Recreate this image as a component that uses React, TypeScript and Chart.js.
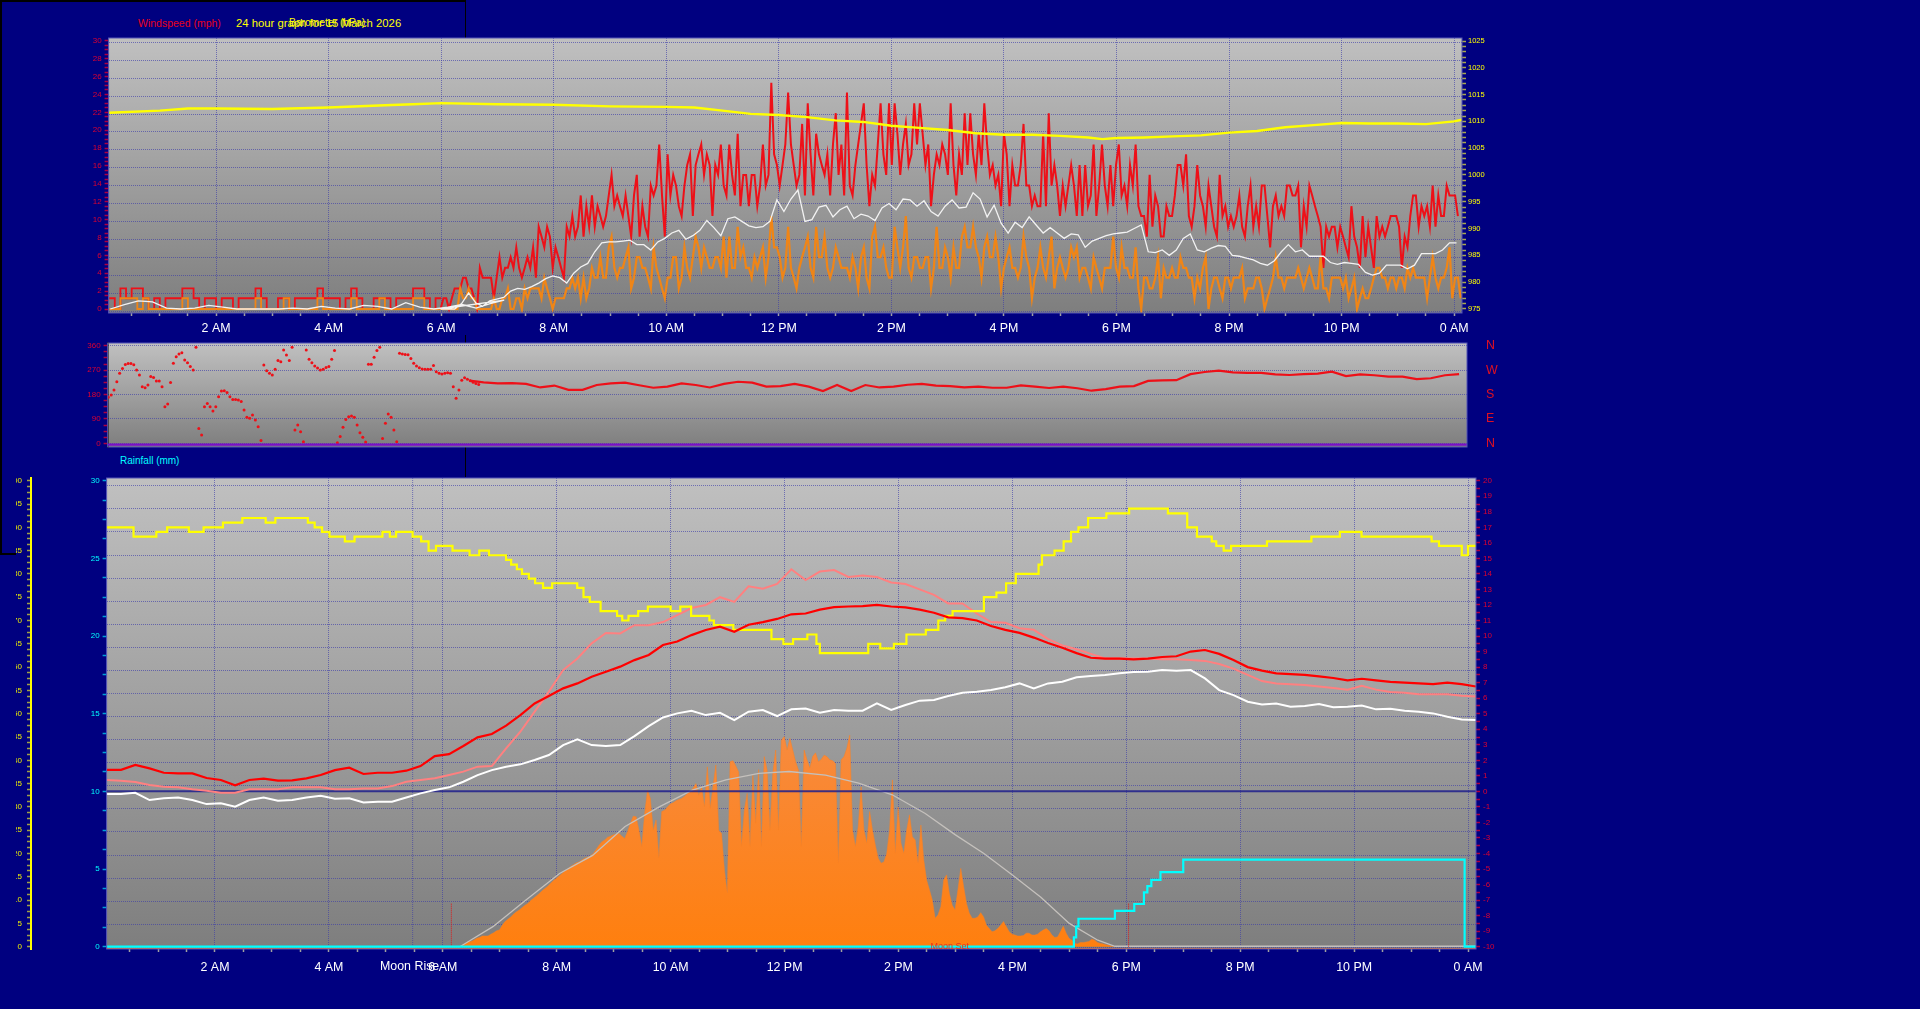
import { useEffect, useRef } from "react"
import Chart from "chart.js/auto"

const FONT = "'Liberation Sans', Arial, sans-serif"
const NAVY = "#000080"
const GRID = "rgba(58,58,170,0.62)"
const RED_TEXT = "#dc0030"

// ---- top panel: wind and pressure ----
const gustEarly = [
  1.2, 0, 2.3, 1.2, 2.3, 2.3, 1.2, 0, 1.2, 0, 1.2, 1.2, 1.2, 2.3, 2.3, 1.2, 0, 1.2, 1.2, 0, 1.2, 1.2, 0, 1.2, 1.2, 1.2,
  2.3, 1.2, 0, 0, 1.2, 1.2, 0, 1.2, 1.2, 1.2, 1.2, 2.3, 1.2, 1.2, 1.2, 0, 1.2, 2.3, 1.2, 0, 0, 1.2, 1.2, 1.2, 0, 1.2,
  1.2, 1.2, 2.3, 2.3, 1.2, 0, 1.2, 1.2,
]
const gustDay = [
  0, 1.2, 1.2, 0, 1.2, 2.3, 2.3, 2.3, 3.5, 3.5, 2.3, 2.3, 1.2, 0, 4.6, 3.5, 3.5, 3.5, 3.5, 1.2, 3.5, 5.8, 3.5, 4.6, 4.6,
  5.8, 4.6, 6.9, 4.6, 3.5, 4.6, 5.8, 4.6, 6.9, 3.5, 9.2, 8.1, 6.9, 9.2, 8.1, 4.6, 6.9, 5.8, 4.6, 3.5, 9.2, 8.1, 10.4,
  8.1, 9.2, 12.7, 8.1, 11.5, 9.2, 12.7, 9.2, 11.5, 10.4, 9.2, 10.4, 12.7, 15, 11.5, 12.7, 11.5, 10.4, 12.7, 10.4, 8.1,
  12.7, 15, 8.1, 11.5, 9.2, 8.1, 13.8, 12.7, 13.8, 18.4, 12.7, 8.1, 17.3, 12.7, 15, 13.8, 11.5, 10.4, 13.8, 16.1, 17.3,
  10.4, 16.1, 17.3, 18.4, 15, 17.3, 16.1, 10.4, 16.1, 15, 18.4, 13.8, 12.7, 18.4, 15, 12.7, 19.6, 11.5, 15, 15, 11.5,
  15, 15, 11.5, 13.8, 18.4, 13.8, 15, 25.3, 17.3, 16.1, 13.8, 16.1, 18.4, 24.2, 18.4, 16.1, 13.8, 15, 20.7, 12.7, 23,
  17.3, 12.7, 19.6, 17.3, 16.1, 15, 17.3, 12.7, 18.4, 21.9, 15, 18.4, 12.7, 24.2, 13.8, 12.7, 16.1, 18.4, 20.7, 23,
  16.1, 11.5, 15, 13.8, 18.4, 23, 17.3, 15, 23, 16.1, 23, 19.6, 15, 18.4, 20.7, 16.1, 17.3, 23, 18.4, 23, 19.6, 16.1,
  18.4, 11.5, 15, 17.3, 16.1, 18.4, 17.3, 15, 23, 16.1, 12.7, 17.3, 15, 21.9, 16.1, 21.9, 17.3, 15, 19.6, 16.1, 23,
  18.4, 15, 16.1, 13.8, 15, 11.5, 19.6, 17.3, 11.5, 16.1, 13.8, 13.8, 16.1, 20.7, 13.8, 13.8, 11.5, 12.7, 11.5, 11.5,
  19.6, 11.5, 21.9, 13.8, 16.1, 13.8, 10.4, 13.8, 11.5, 13.8, 16.1, 13.8, 10.4, 16.1, 10.4, 16.1, 11.5, 12.7, 18.4,
  10.4, 13.8, 18.4, 13.8, 11.5, 16.1, 11.5, 16.1, 18.4, 12.7, 13.8, 11.5, 16.1, 13.8, 18.4, 11.5, 10.4, 10.4, 8.1, 15,
  9.2, 12.7, 11.5, 8.1, 8.1, 11.5, 10.4, 10.4, 12.7, 16.1, 16.1, 13.8, 17.3, 10.4, 9.2, 11.5, 16.1, 12.7, 11.5, 9.2,
  13.8, 11.5, 9.2, 8.1, 15, 10.4, 11.5, 9.2, 10.4, 9.2, 10.4, 12.7, 9.2, 8.1, 11.5, 13.8, 9.2, 11.5, 9.2, 13.8, 13.8,
  10.4, 6.9, 11.5, 12.7, 10.4, 11.5, 10.4, 13.8, 13.8, 12.7, 12.7, 13.8, 6.9, 11.5, 9.2, 13.8, 12.7, 11.5, 10.4, 9.2,
  4.6, 9.2, 8.1, 9.2, 9.2, 6.9, 9.2, 8.1, 6.9, 5.8, 11.5, 8.1, 6.9, 4.6, 10.4, 5.8, 9.2, 6.9, 4.6, 10.4, 8.1, 9.2, 8.1,
  9.2, 10.4, 10.4, 10.4, 9.2, 4.6, 8.1, 6.9, 10.4, 12.7, 12.7, 9.2, 11.5, 10.4, 11.5, 9.2, 13.8, 9.2, 12.7, 10.4, 10.4,
  13.8, 12.7, 12.7, 12.7, 10.4,
]
const avgEarly = [
  0, 0, 1.2, 1.2, 1.2, 0, 1.2, 0, 0, 0, 0, 0, 0, 1.2, 0, 0, 0, 0, 0, 0, 0, 0, 0, 0, 0, 0, 1.2, 0, 0, 0, 0, 1.2, 0, 0, 0,
  0, 0, 1.2, 0, 0, 0, 0, 0, 1.2, 0, 0, 0, 0, 1.2, 0, 0, 0, 0, 0, 1.2, 1.2, 0, 0, 0, 0,
]
const avgDay = [
  0, 0, 0, 0, 0, 0, 0, 2.3, 1.2, 1.2, 2.3, 1.2, 1.2, 0, 0, 0, 0, 0, 0, 1.2, 0, 0, 1.2, 1.2, 2.3, 0, 0, 1.2, 1.2, 0, 2.3,
  1.2, 2.3, 2.3, 2.3, 2.3, 1.2, 3.5, 2.3, 1.2, 0, 1.2, 1.2, 1.2, 1.2, 2.3, 2.3, 3.5, 2.3, 3.5, 1.2, 3.5, 1.2, 2.3, 4.6,
  3.5, 3.5, 5.8, 3.5, 3.5, 6.9, 8.1, 4.6, 3.5, 4.6, 4.6, 5.8, 6.9, 2.3, 3.5, 5.8, 5.8, 4.6, 4.6, 3.5, 2.3, 6.9, 4.6,
  3.5, 2.3, 1.2, 3.5, 3.5, 5.8, 5.8, 2.3, 3.5, 6.9, 4.6, 3.5, 5.8, 8.1, 6.9, 4.6, 6.9, 5.8, 4.6, 4.6, 5.8, 5.8, 4.6,
  8.1, 3.5, 8.1, 4.6, 4.6, 9.2, 5.8, 6.9, 4.6, 4.6, 3.5, 5.8, 4.6, 5.8, 6.9, 3.5, 5.8, 10.4, 6.9, 6.9, 5.8, 3.5, 4.6,
  9.2, 4.6, 3.5, 2.3, 4.6, 5.8, 6.9, 8.1, 4.6, 3.5, 9.2, 5.8, 5.8, 8.1, 4.6, 3.5, 4.6, 6.9, 5.8, 4.6, 4.6, 4.6, 3.5,
  5.8, 4.6, 2.3, 5.8, 6.9, 3.5, 2.3, 8.1, 9.2, 5.8, 5.8, 6.9, 4.6, 3.5, 3.5, 9.2, 6.9, 4.6, 6.9, 10.4, 4.6, 3.5, 5.8,
  5.8, 4.6, 4.6, 5.8, 5.8, 2.3, 4.6, 9.2, 4.6, 4.6, 6.9, 5.8, 3.5, 6.9, 4.6, 4.6, 8.1, 9.2, 6.9, 6.9, 9.2, 6.9, 5.8,
  3.5, 6.9, 8.1, 5.8, 5.8, 8.1, 5.8, 2.3, 4.6, 5.8, 6.9, 4.6, 4.6, 3.5, 4.6, 8.1, 5.8, 4.6, 1.2, 3.5, 4.6, 6.9, 4.6,
  3.5, 5.8, 8.1, 2.3, 4.6, 5.8, 4.6, 3.5, 4.6, 6.9, 5.8, 6.9, 3.5, 4.6, 4.6, 3.5, 2.3, 5.8, 4.6, 3.5, 2.3, 4.6, 4.6,
  4.6, 8.1, 4.6, 3.5, 6.9, 4.6, 4.6, 3.5, 3.5, 6.9, 2.3, 0, 3.5, 3.5, 2.3, 2.3, 3.5, 5.8, 1.2, 4.6, 3.5, 3.5, 4.6, 3.5,
  3.5, 5.8, 4.6, 4.6, 3.5, 3.5, 1.2, 3.5, 2.3, 4.6, 5.8, 0, 2.3, 3.5, 3.5, 2.3, 1.2, 3.5, 3.5, 2.3, 3.5, 3.5, 3.5, 4.6,
  1.2, 2.3, 2.3, 2.3, 3.5, 3.5, 2.3, 0, 1.2, 2.3, 3.5, 5.8, 3.5, 3.5, 2.3, 3.5, 3.5, 3.5, 3.5, 4.6, 3.5, 2.3, 3.5, 4.6,
  3.5, 2.3, 2.3, 5.8, 2.3, 2.3, 1.2, 3.5, 3.5, 3.5, 3.5, 2.3, 3.5, 1.2, 2.3, 3.5, 0, 1.2, 2.3, 1.2, 1.2, 2.3, 3.5, 4.6,
  4.6, 3.5, 3.5, 2.3, 3.5, 3.5, 2.3, 3.5, 3.5, 2.3, 4.6, 3.5, 4.6, 3.5, 3.5, 3.5, 3.5, 1.2, 3.5, 5.8, 3.5, 2.3, 3.5,
  3.5, 4.6, 6.9, 1.2, 3.5, 3.5, 1.2,
]
const avg10Early = [0, 0.5, 0.9, 0.8, 0.1, 0, 0.1, 0.4, 0.2, 0, 0, 0, 0, 0.1, 0, 0.3, 0.1, 0, 0.4, 0.3, 0, 0.7, 0.2, 0, 0.2, 0.5, 0.1, 0.6, 1]
const avg10Day = [
  0, 0, 0, 0.6, 1.8, 0.7, 0.3, 0.9, 1.1, 1.3, 2, 2.3, 2.2, 2.5, 2.9, 3.4, 3.7, 3.5, 2.9, 4, 4.7, 5.1, 6.4, 7.4, 7.5, 7.5,
  7.6, 7.7, 7.2, 7.2, 6.6, 7.5, 7.9, 8.5, 8.8, 7.8, 8.2, 8.8, 9.9, 9.1, 8.2, 10.1, 10.3, 9.8, 9.3, 9.1, 9.2, 9.8, 12.2,
  10.9, 12.3, 13.3, 9.8, 10, 11.4, 11.6, 10.3, 11.1, 11.5, 10.1, 10.6, 10.4, 9.9, 11.3, 11.8, 11.1, 12.3, 12.2, 11.5,
  12.1, 10.9, 10.4, 11.5, 12.2, 11.3, 11.4, 13, 12.3, 10.3, 11.6, 9.6, 8.5, 9.7, 9.1, 10.3, 9.4, 8.5, 9.1, 8.5, 7.9, 8.4,
  8.3, 6.9, 7.6, 7.9, 8.2, 8.4, 8.5, 8.6, 9, 9.4, 6.4, 6.3, 6.6, 6, 6.6, 7.9, 8.4, 6.6, 6.4, 6.8, 7.1, 7, 6, 5.9, 5.7,
  5.5, 5.1, 4.9, 5.4, 6.4, 7.2, 6.4, 6.6, 5.9, 5.9, 5.9, 5.2, 5, 5.2, 5.1, 5, 4.1, 3.8, 4, 4.9, 4.9, 4.9, 4.5, 4.9, 6.2,
  6.2, 6.2, 6.6, 7.4, 7.4,
]
const pressureHours = [
  0.1, 1, 1.5, 2, 3, 4, 5, 5.5, 6, 7, 8, 9, 10, 10.5, 11, 11.5, 12, 12.5, 13, 13.5, 14, 14.5, 15, 15.5, 16, 16.5, 17, 17.5,
  17.75, 18, 18.5, 19, 19.5, 20, 20.5, 21, 21.5, 22, 22.5, 23, 23.5, 24, 24.14,
]
const pressure = [
  1011.6, 1012, 1012.4, 1012.4, 1012.3, 1012.6, 1013, 1013.2, 1013.4, 1013.2, 1013.1, 1012.8, 1012.7, 1012.6, 1012, 1011.4,
  1011.2, 1010.8, 1010.2, 1009.9, 1009.2, 1008.8, 1008.4, 1007.8, 1007.5, 1007.5, 1007.3, 1007, 1006.7, 1006.9, 1007, 1007.2,
  1007.4, 1007.9, 1008.2, 1008.9, 1009.3, 1009.7, 1009.6, 1009.6, 1009.5, 1010, 1010.3,
]

// ---- middle panel: wind direction ----
const directionNight = [
  170, 178, 197, 227, 258, 276, 291, 294, 294, 290, 270, 252, 209, 205, 215, 246, 243, 230, 230, 209, 135, 145, 224, 295,
  319, 329, 334, 307, 297, 283, 270, 354, 55, 31, 135, 147, 135, 119, 135, 172, 193, 194, 187, 172, 162, 162, 160, 154, 123,
  96, 92, 104, 86, 61, 10, 289, 268, 258, 252, 273, 305, 301, 344, 326, 305, 354, 49, 68, 43, 6, 344, 310, 297, 285, 278,
  270, 273, 280, 283, 310, 342, 2, 25, 59, 88, 98, 101, 96, 68, 39, 22, 5, 292, 292, 317, 342, 354, 18, 74, 108, 96, 49, 6,
  332, 329, 328, 327, 313, 295, 285, 279, 274, 273, 273, 273, 287, 264, 258, 256, 258, 260, 258, 209, 166, 197, 233, 242,
  236, 231, 225, 221, 217,
]
const directionDay = [
  231, 225, 221, 222, 219, 206, 213, 197, 197, 215, 221, 224, 214, 205, 209, 221, 215, 206, 219, 227, 224, 209, 211, 219,
  209, 193, 215, 193, 215, 206, 209, 216, 219, 213, 211, 206, 209, 205, 205, 214, 209, 204, 209, 203, 194, 200, 209, 211,
  230, 232, 233, 255, 263, 268, 262, 260, 260, 254, 252, 255, 257, 264, 248, 254, 251, 246, 246, 237, 240, 251, 255,
]
const calmLine = [-5, -5]

// ---- bottom panel: temperature, humidity, solar, rain ----
const temperature = [
  1.39, 1.39, 1.7, 1.48, 1.2, 1.16, 1.16, 0.86, 0.73, 0.39, 0.73, 0.82, 0.69, 0.71, 0.84, 1.05, 1.37, 1.52, 1.12, 1.2, 1.2,
  1.33, 1.63, 2.27, 2.4, 2.92, 3.48, 3.69, 4.23, 4.91, 5.66, 6.14, 6.63, 6.95, 7.38, 7.7, 8.03, 8.45, 8.78, 9.42, 9.65,
  10.06, 10.39, 10.6, 10.28, 10.73, 10.9, 11.1, 11.4, 11.45, 11.7, 11.86, 11.9, 11.93, 12, 11.9, 11.85, 11.7, 11.5, 11.2,
  11.15, 11, 10.65, 10.4, 10.2, 9.9, 9.55, 9.25, 8.9, 8.6, 8.55, 8.55, 8.5, 8.55, 8.65, 8.7, 9, 9.1, 8.85, 8.45, 8, 7.77,
  7.6, 7.55, 7.5, 7.4, 7.3, 7.15, 7.25, 7.15, 7.05, 7, 6.95, 6.9, 7, 6.9, 6.75,
]
const apparent = [
  0.73, 0.69, 0.6, 0.41, 0.3, 0.26, 0.13, 0.04, -0.09, -0.09, 0.13, 0.13, 0.13, 0.26, 0.26, 0.26, 0.13, 0.13, 0.19, 0.19,
  0.34, 0.62, 0.73, 0.84, 1.05, 1.27, 1.59, 1.63, 2.77, 3.84, 5.13, 6.42, 7.81, 8.56, 9.53, 10.2, 10.17, 10.7, 10.7, 10.9,
  11.35, 11.8, 12, 12.5, 12.2, 13.2, 13.05, 13.35, 14.3, 13.6, 14.15, 14.25, 13.8, 13.9, 13.8, 13.45, 13.35, 13, 12.65, 12.1,
  12.1, 11.45, 10.9, 10.85, 10.5, 10.4, 9.8, 9.4, 9.15, 8.85, 8.55, 8.55, 8.55, 8.55, 8.5, 8.5, 8.45, 8.4, 8.2, 7.9, 7.5, 7.1,
  6.95, 6.9, 6.85, 6.75, 6.65, 6.55, 6.8, 6.55, 6.4, 6.35, 6.25, 6.25, 6.25, 6.15, 6.1,
]
const dewPoint = [
  -0.17, -0.17, -0.09, -0.56, -0.45, -0.39, -0.56, -0.82, -0.77, -0.99, -0.56, -0.39, -0.6, -0.56, -0.39, -0.28, -0.47, -0.45,
  -0.71, -0.67, -0.67, -0.39, -0.13, 0.09, 0.26, 0.62, 1.05, 1.37, 1.59, 1.74, 2.02, 2.34, 2.98, 3.35, 2.98, 2.92, 2.98, 3.56,
  4.2, 4.76, 5.02, 5.19, 4.91, 5.06, 4.59, 5.13, 5.24, 4.85, 5.28, 5.34, 5.06, 5.24, 5.19, 5.19, 5.66, 5.24, 5.56, 5.84, 5.88,
  6.14, 6.35, 6.42, 6.52, 6.7, 6.95, 6.63, 6.95, 7.06, 7.34, 7.43, 7.49, 7.6, 7.68, 7.7, 7.81, 7.77, 7.81, 7.27, 6.52, 6.2,
  5.77, 5.6, 5.66, 5.45, 5.49, 5.62, 5.41, 5.45, 5.52, 5.28, 5.32, 5.19, 5.13, 5.02, 4.81, 4.63, 4.59,
]
const humidityHours = [
  0.1, 0.57, 0.97, 1.16, 1.54, 1.8, 2.14, 2.48, 2.89, 3.06, 3.63, 3.75, 3.88, 4.01, 4.28, 4.45, 4.94, 5.07, 5.18, 5.47, 5.62,
  5.75, 5.88, 6.17, 6.47, 6.64, 6.81, 7.11, 7.2, 7.3, 7.39, 7.51, 7.62, 7.76, 7.92, 8.36, 8.47, 8.58, 8.77, 9.06, 9.15, 9.26,
  9.43, 9.6, 10, 10.17, 10.36, 10.68, 10.76, 11.1, 11.77, 11.98, 12.15, 12.4, 12.56, 12.62, 13.47, 13.68, 13.92, 14.14, 14.48,
  14.7, 14.82, 14.95, 15.5, 15.72, 15.89, 16.06, 16.46, 16.52, 16.74, 16.9, 17.03, 17.16, 17.33, 17.65, 18.05, 18.73, 19.07,
  19.24, 19.5, 19.58, 19.71, 19.84, 20.47, 21.25, 21.75, 22.13, 23.36, 23.49, 23.89, 24, 24.14,
]
const humidity = [
  90, 88, 89, 90, 89, 90, 91, 92, 91, 92, 91, 90, 89, 88, 87, 88, 89, 88, 89, 88, 87, 85, 86, 85, 84, 85, 84, 83, 82, 81, 80,
  79, 78, 77, 78, 77, 75, 74, 72, 71, 70, 71, 72, 73, 72, 73, 71, 70, 69, 68, 66, 65, 66, 67, 65, 63, 65, 64, 65, 67, 68, 70,
  71, 72, 75, 76, 78, 80, 82, 84, 85, 87, 89, 90, 92, 93, 94, 93, 90, 88, 87, 86, 85, 86, 87, 88, 89, 88, 87, 86, 84, 86, 86,
]
const solar = [
  0, 4, 7, 11, 11, 14, 18, 20, 23, 23, 23, 27, 30, 34, 36, 46, 54, 59, 64, 70, 75, 79, 84, 89, 93, 99, 104, 109, 114, 120, 125,
  130, 136, 142, 147, 152, 157, 163, 167, 172, 176, 180, 182, 186, 190, 192, 195, 200, 209, 218, 225, 229, 235, 237, 240, 242,
  243, 237, 232, 247, 265, 280, 279, 250, 215, 286, 336, 318, 250, 272, 190, 290, 293, 300, 306, 309, 313, 316, 318, 323, 329,
  333, 340, 350, 325, 343, 300, 386, 297, 343, 390, 250, 243, 165, 114, 397, 399, 388, 375, 215, 293, 329, 215, 368, 265, 380,
  215, 408, 379, 250, 372, 422, 250, 443, 451, 422, 447, 422, 397, 379, 215, 422, 401, 383, 408, 416, 397, 402, 411, 408, 401,
  399, 393, 179, 401, 408, 426, 454, 250, 215, 258, 343, 250, 222, 290, 250, 218, 190, 179, 182, 200, 250, 358, 200, 300, 222,
  200, 250, 283, 236, 229, 179, 261, 186, 143, 122, 100, 61, 68, 86, 143, 154, 114, 89, 79, 122, 168, 129, 93, 72, 61, 61, 64,
  73, 64, 46, 39, 32, 34, 39, 46, 54, 43, 32, 27, 25, 23, 23, 24, 29, 29, 25, 25, 27, 32, 36, 39, 34, 25, 20, 21, 32, 44, 29,
  18, 14, 7, 6, 9, 9, 10, 11, 16, 14, 9, 7, 6, 4, 3, 1, 0,
]
const clearSkyHours = [
  0.1, 6.3, 6.88, 7.46, 8.05, 8.63, 9.2, 9.8, 10.38, 10.97, 11.55, 12.08, 12.72, 13.3, 13.89, 14.47, 15, 15.5, 16, 16.5, 17,
  17.5, 17.8, 24.14,
]
const clearSky = [0, 0, 43, 100, 157, 196, 258, 300, 336, 358, 372, 376, 368, 351, 326, 286, 240, 200, 154, 106, 50, 14, 1, 1]
const rainHours = [0.1, 17.08, 17.12, 17.16, 17.42, 17.8, 18.14, 18.31, 18.37, 18.44, 18.6, 19, 23.94, 24.14]
const rainTotal = [0, 0.6, 1.3, 1.8, 1.8, 2.3, 2.75, 3.5, 3.9, 4.3, 4.8, 5.6, 0, 0]
const freezingLine = [0, 0]
const solarFloor = [-4.5, -4.5]
const dayEnds = [0.1, 24.14]
const moonRiseHour = 5.47
const moonSetHour = 14.9
const sunriseHour = 6.15
const sunsetHour = 18.04

const sampled = (start: number, step: number, values: number[]) =>
  values.map((y, i) => ({ x: start + i * step, y }))
const paired = (hours: number[], values: number[]) => values.map((y, i) => ({ x: hours[i], y }))

const hourLabel = (h: number) => {
  if (h % 2 !== 0) return ""
  if (h === 24) return "0 AM"
  if (h === 12) return "12 PM"
  return h < 12 ? `${h} AM` : `${h - 12} PM`
}

const width = (w: number) => (scale: any) => {
  scale.width = w
}
const height = (h: number) => (scale: any) => {
  scale.height = h
}

const panelStyle = {
  id: "panelStyle",
  beforeDraw(chart: any) {
    const { ctx, chartArea: a } = chart
    const g = ctx.createLinearGradient(0, a.top, 0, a.bottom)
    g.addColorStop(0, "#c0c0c0")
    g.addColorStop(1, "#7e7e7e")
    ctx.fillStyle = g
    ctx.fillRect(a.left, a.top, a.right - a.left, a.bottom - a.top)
  },
  afterDraw(chart: any) {
    const { ctx, chartArea: a } = chart
    ctx.strokeStyle = "#5555b5"
    ctx.lineWidth = 1
    ctx.strokeRect(a.left, a.top, a.right - a.left, a.bottom - a.top)
  },
}

const moonLabels = {
  id: "moonLabels",
  afterDraw(chart: any) {
    const { ctx, scales } = chart
    ctx.save()
    ctx.textAlign = "center"
    ctx.textBaseline = "middle"
    ctx.font = `12.4px ${FONT}`
    ctx.fillStyle = "#ffffff"
    ctx.fillText("Moon Rise", scales.x.getPixelForValue(moonRiseHour) - 3, scales.temp.getPixelForValue(-10) + 20)
    ctx.font = `9px ${FONT}`
    ctx.fillStyle = "#e8301c"
    ctx.fillText("Moon Set", scales.x.getPixelForValue(moonSetHour), scales.temp.getPixelForValue(-10))
    ctx.restore()
  },
}

const timeAxis = (min: number, max: number, h: number, pad: number) => ({
  type: "linear" as const,
  min,
  max,
  afterFit: height(h),
  border: { display: false, dash: [1, 1] },
  grid: {
    color: (c: any) => (c.tick && c.tick.value % 2 === 0 ? GRID : "transparent"),
    tickColor: "#a0a0a0",
    tickLength: 3,
    tickWidth: 1.5,
  },
  ticks: {
    stepSize: 0.5,
    includeBounds: false,
    autoSkip: false,
    maxRotation: 0,
    padding: pad,
    color: "#ffffff",
    font: { family: FONT, size: 12.4 },
    callback: (v: any) => hourLabel(Number(v)),
  },
})

const tickAxis = (opts: {
  side: "left" | "right"
  min: number
  max: number
  step: number
  every: number
  w: number
  color: string
  tick: string
  size: number
  pad: number
  weight?: number
  label?: (v: number) => string
  border?: any
}) => ({
  type: "linear" as const,
  position: opts.side,
  weight: opts.weight ?? 1,
  min: opts.min,
  max: opts.max,
  afterFit: width(opts.w),
  border: opts.border ?? { display: false },
  grid: {
    drawOnChartArea: false,
    tickColor: opts.tick,
    tickLength: 4,
    tickWidth: 1.5,
  },
  ticks: {
    stepSize: opts.step,
    includeBounds: false,
    autoSkip: false,
    padding: opts.pad,
    color: opts.color,
    font: { family: FONT, size: opts.size },
    callback: (v: any) => {
      const n = Number(v)
      if (n % opts.every !== 0) return ""
      return opts.label ? opts.label(n) : String(n)
    },
  },
})

const gridAxis = (min: number, max: number, step: number) => ({
  type: "linear" as const,
  position: "left" as const,
  weight: 0,
  min,
  max,
  afterFit: width(0),
  border: { display: false, dash: [1, 1] },
  grid: { color: GRID, drawTicks: false },
  ticks: { display: false, stepSize: step, includeBounds: false },
})

const line = (label: string, data: any[], yAxisID: string, color: string, w: number, extra: any = {}) => ({
  label,
  data,
  yAxisID,
  xAxisID: "x",
  borderColor: color,
  backgroundColor: color,
  borderWidth: w,
  pointRadius: 0,
  tension: 0,
  fill: false,
  ...extra,
})

// solar fill is paler at the top of the panel, as in the old bitmap
const solarFill = (c: any) => {
  const a = c.chart.chartArea
  if (!a) return "#fb8120"
  const g = c.chart.ctx.createLinearGradient(0, a.top + 250, 0, a.bottom)
  g.addColorStop(0, "#f78b40")
  g.addColorStop(1, "#ff7f0e")
  return g
}

const baseOptions = (top: number, bottom: number) => ({
  responsive: false,
  animation: false as const,
  parsing: { xAxisKey: "x", yAxisKey: "y" },
  layout: { padding: { top, bottom, left: 0, right: 0 } },
  plugins: { legend: { display: false }, tooltip: { enabled: false } },
})

const canvasStyle = (left: number, top: number): React.CSSProperties => ({ position: "absolute", left, top })
const labelStyle = (left: number, top: number, color: string, size: number): React.CSSProperties => ({
  position: "absolute",
  left,
  top,
  color,
  font: `${size}px ${FONT}`,
  whiteSpace: "nowrap",
  lineHeight: "14px",
})
const frameBits = [
  { left: 0, top: 0, width: 466, height: 1.5 },
  { left: 0, top: 0, width: 1.5, height: 554 },
  { left: 0, top: 553, width: 16, height: 1.5 },
  { left: 464.5, top: 0, width: 1.5, height: 38 },
  { left: 464.5, top: 335, width: 1.5, height: 142 },
]

export default function App() {
  const windRef = useRef<HTMLCanvasElement>(null)
  const directionRef = useRef<HTMLCanvasElement>(null)
  const weatherRef = useRef<HTMLCanvasElement>(null)

  useEffect(() => {
    const windChart = new Chart(windRef.current!, {
      type: "line",
      data: {
        datasets: [
          line("Barometer", paired(pressureHours, pressure), "pressure", "#ffff00", 2.4),
          line("Average", [...sampled(0.12, 0.25, avg10Early), ...sampled(5.99, 0.1245, avg10Day)], "wind", "#f2f2f2", 1.3),
          line("Speed night", sampled(0.1, 0.1, avgEarly), "wind", "#f08516", 1.8, { stepped: true }),
          line("Speed", sampled(5.99, 0.0498, avgDay), "wind", "#f08516", 2.2),
          line("Gust night", sampled(0.1, 0.1, gustEarly), "wind", "#ee1018", 1.8, { stepped: true }),
          line("Gust", sampled(5.99, 0.0498, gustDay), "wind", "#ee1018", 2),
        ],
      },
      options: {
        ...baseOptions(12, 0),
        scales: {
          x: timeAxis(0.09, 24.14, 22, 5),
          grid: gridAxis(-0.145, 30.46, 2),
          wind: tickAxis({ side: "left", min: -0.447, max: 30.31, step: 0.5, every: 2, w: 48.6, color: RED_TEXT, tick: "#b00040", size: 8, pad: 3 }),
          pressure: tickAxis({ side: "right", min: 974.25, max: 1025.56, step: 1, every: 5, w: 68, color: "#ffff00", tick: "#a8a850", size: 7.5, pad: 2 }),
        },
      } as any,
      plugins: [panelStyle],
    })

    const directionChart = new Chart(directionRef.current!, {
      type: "line",
      data: {
        datasets: [
          line("Calm", paired(dayEnds, calmLine), "dir", "#7a10c8", 2.2),
          line("Direction", sampled(0.113, 0.05, directionNight), "dir", "#ee1018", 0, { showLine: false, pointRadius: 1.5, pointBorderWidth: 0 }),
          line("Direction day", sampled(6.5, 0.25, directionDay), "dir", "#ee1018", 2.2),
        ],
      },
      options: {
        ...baseOptions(24, 24),
        scales: {
          x: { type: "linear", display: false, min: 0.1, max: 24.14 },
          dir: tickAxis({
            side: "left", min: -13.6, max: 370, step: 22.5, every: 90, w: 47.6, color: RED_TEXT, tick: "#b00040", size: 8, pad: 3,
            border: { display: true, color: "#000000", width: 1.5 },
          }),
          compass: {
            ...tickAxis({
              side: "right", min: -13.6, max: 370, step: 90, every: 90, w: 63, color: "#e01020", tick: "transparent", size: 12.4, pad: 15,
              label: (v) => ({ 0: "N", 90: "E", 180: "S", 270: "W", 360: "N" } as Record<number, string>)[v],
            }),
          },
          grid: { ...gridAxis(-13.6, 370, 90) },
        },
      } as any,
      plugins: [panelStyle],
    })

    const weatherChart = new Chart(weatherRef.current!, {
      type: "line",
      data: {
        datasets: [
          line("Rain", paired(rainHours, rainTotal), "rain", "#00ffff", 2.2, { stepped: true }),
          line("Sunrise", [{ x: sunriseHour, y: 0 }, { x: sunriseHour, y: 2.8 }], "rain", "#e01818", 1, { borderDash: [1, 1] }),
          line("Sunset", [{ x: sunsetHour, y: 0 }, { x: sunsetHour, y: 2.8 }], "rain", "#e01818", 1, { borderDash: [1, 1] }),
          line("Temperature", sampled(0.1, 0.2504, temperature), "temp", "#ff0000", 2.2),
          line("Humidity", paired(humidityHours, humidity), "humidity", "#ffff00", 2.2, { stepped: true }),
          line("Apparent", sampled(0.1, 0.2504, apparent), "temp", "#ff8080", 2),
          line("Dew point", sampled(0.1, 0.2504, dewPoint), "temp", "#ffffff", 2),
          line("Freezing", paired(dayEnds, freezingLine), "temp", "rgba(30,30,140,0.85)", 2),
          line("Clear sky", paired(clearSkyHours, clearSky), "solar", "#c4c0bc", 1.3),
          line("Solar", sampled(6.294, 0.05, solar), "solar", "#fb8120", 0.5, { fill: "origin", backgroundColor: solarFill }),
          line("Solar floor", paired(dayEnds, solarFloor), "solar", "#fb8120", 1.5),
          line("Moon rise", [{ x: moonRiseHour, y: -0.148 }, { x: moonRiseHour, y: 30.174 }], "rain", GRID, 1, { borderDash: [1, 1] }),
        ],
      },
      options: {
        ...baseOptions(10, 0),
        scales: {
          x: timeAxis(0.097, 24.14, 36, 8),
          humidity: tickAxis({
            side: "left", min: -0.49, max: 100.58, step: 1.25, every: 5, w: 15, color: "#f0f000", tick: "#a0a048", size: 8, pad: 5, weight: 3,
            border: { display: true, color: "#ffff00", width: 2 },
          }),
          rain: tickAxis({ side: "left", min: -0.148, max: 30.174, step: 1.25, every: 5, w: 75.6, color: "#00ffff", tick: "#00a0d8", size: 8, pad: 3, weight: 2 }),
          grid: { ...gridAxis(-0.37, 101.7, 5), weight: 1 },
          temp: tickAxis({ side: "right", min: -10.148, max: 20.174, step: 0.5, every: 1, w: 54, color: RED_TEXT, tick: "#b00040", size: 8, pad: 3 }),
          solar: { type: "linear", display: false, min: -4.9, max: 1005.8 },
        },
      } as any,
      plugins: [panelStyle, moonLabels],
    })

    return () => {
      windChart.destroy()
      directionChart.destroy()
      weatherChart.destroy()
    }
  }, [])

  return (
    <div style={{ position: "fixed", inset: 0, background: NAVY, overflow: "hidden" }}>
      {frameBits.map((f, i) => (
        <div key={i} style={{ position: "absolute", background: "#000000", ...f }} />
      ))}
      <span style={labelStyle(138, 16, "#e80018", 10.5)}>Windspeed (mph)</span>
      <span style={labelStyle(236, 16, "#ffff00", 11.3)}>24 hour graph for 15 March 2026</span>
      <span style={labelStyle(289, 16, "#ffff00", 10.3)}>Barometer (hPa)</span>
      <span style={labelStyle(120, 454, "#00ffff", 10)}>Rainfall (mm)</span>
      <canvas ref={windRef} width={1470} height={309} style={canvasStyle(60, 26)} />
      <canvas ref={directionRef} width={1470} height={152} style={canvasStyle(60, 319)} />
      <canvas ref={weatherRef} width={1514} height={517} style={canvasStyle(16, 468)} />
    </div>
  )
}
